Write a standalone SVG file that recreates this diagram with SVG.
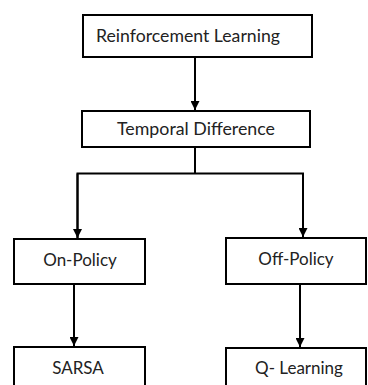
<svg xmlns="http://www.w3.org/2000/svg" width="368" height="385" viewBox="0 0 368 385">
<defs>
<marker id="ah" viewBox="0 0 10 10" refX="10" refY="5" markerWidth="4.5" markerHeight="4.5" orient="auto" markerUnits="strokeWidth">
<path d="M0,0 L10,5 L0,10 z" fill="#000"/>
</marker>
<style>
.box{fill:#fff;stroke:#000;stroke-width:2}
.lbl{font-family:Lato,"Liberation Sans",sans-serif;font-size:17px;fill:#222;text-anchor:middle}
.con{fill:none;stroke:#000;stroke-width:2}
</style>
</defs>
<rect width="368" height="385" fill="#fff"/>
<g id="connectors">
<path class="con" d="M195,57 V110" marker-end="url(#ah)"/>
<path class="con" d="M195,147 V173.5"/>
<path class="con" d="M77.5,238 V173.5 H303 V237" marker-end="url(#ah)"/>
<path class="con" d="M77.5,173.5 V238" marker-end="url(#ah)"/>
<path class="con" d="M74,284 V346" marker-end="url(#ah)"/>
<path class="con" d="M300,284 V347" marker-end="url(#ah)"/>
</g>
<g id="reinforcement-learning">
<rect class="box" x="83" y="15" width="229" height="42"/>
<text class="lbl" x="188" y="42" textLength="184" lengthAdjust="spacingAndGlyphs">Reinforcement Learning</text>
</g>
<g id="temporal-difference">
<rect class="box" x="82" y="111" width="228" height="36"/>
<text class="lbl" x="196" y="134.5" textLength="158" lengthAdjust="spacingAndGlyphs">Temporal Difference</text>
</g>
<g id="on-policy">
<rect class="box" x="14" y="239" width="131" height="45"/>
<text class="lbl" x="80" y="266">On-Policy</text>
</g>
<g id="off-policy">
<rect class="box" x="226" y="238" width="140" height="46"/>
<text class="lbl" x="296" y="265">Off-Policy</text>
</g>
<g id="sarsa">
<rect class="box" x="14" y="347" width="131" height="45"/>
<text class="lbl" x="78" y="374">SARSA</text>
</g>
<g id="q-learning">
<rect class="box" x="226" y="348" width="140" height="45"/>
<text class="lbl" x="299" y="374">Q- Learning</text>
</g>
</svg>
